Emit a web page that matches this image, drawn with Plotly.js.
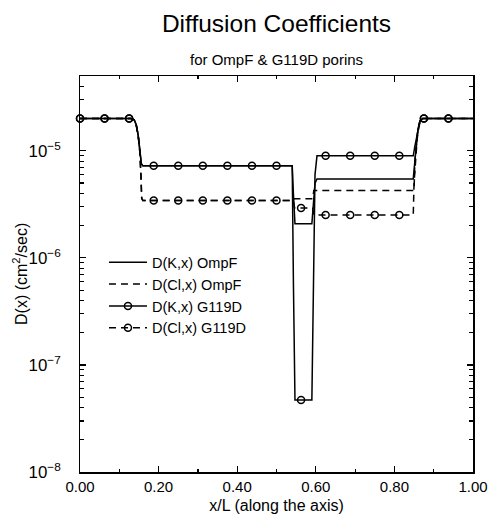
<!DOCTYPE html>
<html>
<head>
<meta charset="utf-8">
<script src="https://cdn.plot.ly/plotly-3.0.1.min.js"></script>
<style>html,body{margin:0;padding:0;background:#fff;}#chart{width:490px;height:514px;}</style>
</head>
<body>
<div id="chart"></div>
<script>
// ---- data ----
const xK_OmpF = [0, 0.13, 0.138, 0.143, 0.148, 0.152, 0.156, 0.16, 0.540, 0.543, 0.547, 0.590, 0.594, 0.598, 0.603, 0.848, 0.852, 0.856, 0.860, 0.865, 0.872, 1.0];
const yK_OmpF = [2e-5, 2e-5, 1.95e-5, 1.75e-5, 1.4e-5, 1.0e-5, 7.6e-6, 7.24e-6, 7.24e-6, 4.0e-6, 2.08e-6, 2.08e-6, 3.2e-6, 5.0e-6, 5.47e-6, 5.47e-6, 8.0e-6, 1.2e-5, 1.6e-5, 1.9e-5, 2e-5, 2e-5];

const xCl_OmpF = [0, 0.13, 0.138, 0.143, 0.148, 0.152, 0.155, 0.157, 0.160, 0.543, 0.545, 0.592, 0.595, 0.850, 0.852, 0.856, 0.860, 0.865, 0.872, 1.0];
const yCl_OmpF = [2e-5, 2e-5, 1.95e-5, 1.75e-5, 1.4e-5, 1.0e-5, 6.0e-6, 3.6e-6, 3.43e-6, 3.43e-6, 3.57e-6, 3.57e-6, 4.26e-6, 4.26e-6, 8.0e-6, 1.2e-5, 1.6e-5, 1.9e-5, 2e-5, 2e-5];

const xK_G119D = [0, 0.13, 0.138, 0.143, 0.148, 0.152, 0.156, 0.16, 0.540, 0.543, 0.547, 0.590, 0.594, 0.598, 0.603, 0.848, 0.852, 0.856, 0.860, 0.865, 0.872, 1.0];
const yK_G119D = [2e-5, 2e-5, 1.95e-5, 1.75e-5, 1.4e-5, 1.0e-5, 7.6e-6, 7.24e-6, 7.24e-6, 6e-7, 4.7e-8, 4.7e-8, 6e-7, 6e-6, 8.98e-6, 8.98e-6, 1.1e-5, 1.3e-5, 1.6e-5, 1.9e-5, 2e-5, 2e-5];

const xCl_G119D = [0, 0.13, 0.138, 0.143, 0.148, 0.152, 0.155, 0.157, 0.160, 0.543, 0.546, 0.592, 0.595, 0.848, 0.850, 0.854, 0.858, 0.862, 0.866, 0.872, 1.0];
const yCl_G119D = [2e-5, 2e-5, 1.95e-5, 1.75e-5, 1.4e-5, 1.0e-5, 6.0e-6, 3.6e-6, 3.43e-6, 3.43e-6, 2.93e-6, 2.93e-6, 2.52e-6, 2.52e-6, 5e-6, 9e-6, 1.3e-5, 1.65e-5, 1.9e-5, 2e-5, 2e-5];

const xMarkers = [0, 0.0625, 0.125, 0.1875, 0.25, 0.3125, 0.375, 0.4375, 0.5, 0.5625, 0.625, 0.6875, 0.75, 0.8125, 0.875, 0.9375];
const yK_G119D_markers = [2e-5, 2e-5, 2e-5, 7.24e-6, 7.24e-6, 7.24e-6, 7.24e-6, 7.24e-6, 7.24e-6, 4.7e-8, 8.98e-6, 8.98e-6, 8.98e-6, 8.98e-6, 2e-5, 2e-5];
const yCl_G119D_markers = [2e-5, 2e-5, 2e-5, 3.43e-6, 3.43e-6, 3.43e-6, 3.43e-6, 3.43e-6, 3.43e-6, 2.93e-6, 2.52e-6, 2.52e-6, 2.52e-6, 2.52e-6, 2e-5, 2e-5];

const seriesNames = ['D(K,x) OmpF', 'D(Cl,x) OmpF', 'D(K,x) G119D', 'D(Cl,x) G119D'];
const xTickVals = [0, 0.2, 0.4, 0.6, 0.8, 1.0];

// ---- styles ----
const FONT = 'Liberation Sans, Arial, sans-serif';
const LW = 1.5;
const DASH = '7px,5px';
const mk = {symbol: 'circle-open', size: 7, color: 'black', line: {width: 1.5, color: 'black'}};

const traces = [
  {x: xK_OmpF, y: yK_OmpF, mode: 'lines', name: seriesNames[0], line: {color: 'black', width: LW}},
  {x: xCl_OmpF, y: yCl_OmpF, mode: 'lines', name: seriesNames[1], line: {color: 'black', width: LW, dash: DASH}},
  {x: xK_G119D, y: yK_G119D, mode: 'lines', showlegend: false, line: {color: 'black', width: LW}},
  {x: xCl_G119D, y: yCl_G119D, mode: 'lines', showlegend: false, line: {color: 'black', width: LW, dash: DASH}},
  {x: xMarkers, y: yK_G119D_markers, mode: 'markers', showlegend: false, marker: mk, cliponaxis: false},
  {x: xMarkers, y: yCl_G119D_markers, mode: 'markers', showlegend: false, marker: mk, cliponaxis: false},
  // legend-only entries for the marked series
  {x: [null], y: [null], mode: 'lines+markers', name: seriesNames[2], line: {color: 'black', width: LW}, marker: mk},
  {x: [null], y: [null], mode: 'lines+markers', name: seriesNames[3], line: {color: 'black', width: LW, dash: DASH}, marker: mk}
];

const layout = {
  width: 490, height: 514,
  margin: {l: 80, r: 17, t: 76, b: 42},
  paper_bgcolor: 'white', plot_bgcolor: 'white',
  font: {family: FONT, color: 'black', size: 15},
  showlegend: true,
  title: {text: 'Diffusion Coefficients', font: {family: FONT, size: 24.5, color: 'black'},
          x: 0.5, xref: 'paper', y: 1 - 23/514, yref: 'container', yanchor: 'middle'},
  annotations: [
    {text: 'for OmpF &amp; G119D porins', xref: 'paper', yref: 'paper', x: 0.5, y: 1 + (76 - 59.5)/396,
     xanchor: 'center', yanchor: 'middle', showarrow: false, font: {family: FONT, size: 15, color: 'black'}},
    {text: 'D(x) (cm<sup>2</sup>/sec)', xref: 'paper', yref: 'paper', x: (20 - 80)/393, y: 0.5, textangle: -90,
     xanchor: 'center', yanchor: 'middle', showarrow: false, font: {family: FONT, size: 16, color: 'black'}}
  ],
  legend: {x: 0.061, y: 0.57, xanchor: 'left', yanchor: 'top', bgcolor: 'rgba(0,0,0,0)', itemwidth: 38,
           font: {family: FONT, size: 14.5, color: 'black'}, tracegroupgap: 0, traceorder: 'normal'},
  xaxis: {
    range: [0, 1], tickvals: xTickVals, tickformat: '.2f',
    ticks: 'inside', ticklen: 6, tickwidth: 1.2, tickcolor: 'black',
    showline: true, linecolor: 'black', linewidth: 1.5, mirror: 'ticks',
    showgrid: false, zeroline: false,
    minor: {dtick: 0.1, tick0: 0, ticks: 'inside', ticklen: 3, tickwidth: 1.2, tickcolor: 'black', showgrid: false},
    tickfont: {family: FONT, size: 15, color: 'black'},
    title: {text: 'x/L (along the axis)', font: {family: FONT, size: 16, color: 'black'}, standoff: 9},
    automargin: false
  },
  yaxis: {
    type: 'log', range: [-8, Math.log10(5e-5)], dtick: 1, exponentformat: 'power', showexponent: 'all',
    ticks: 'inside', ticklen: 6, tickwidth: 1.2, tickcolor: 'black',
    showline: true, linecolor: 'black', linewidth: 1.5, mirror: 'ticks',
    showgrid: false, zeroline: false,
    minor: {dtick: 'D1', ticks: 'inside', ticklen: 4, tickwidth: 1.2, tickcolor: 'black', showgrid: false},
    tickfont: {family: FONT, size: 13.5, color: 'black'}, ticklabelstandoff: 15,
    automargin: false
  }
};

Plotly.newPlot('chart', traces, layout, {staticPlot: true, displayModeBar: false});
</script>
</body>
</html>
